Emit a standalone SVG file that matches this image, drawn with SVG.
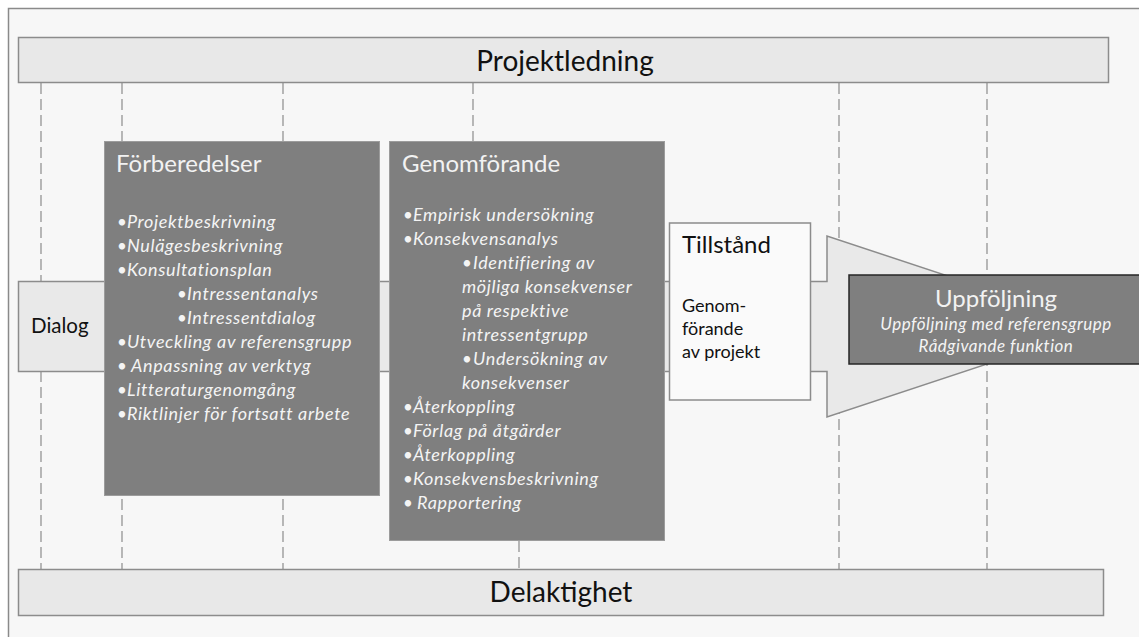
<svg xmlns="http://www.w3.org/2000/svg" width="1139" height="637" viewBox="0 0 1139 637">
  <style>
    text { font-family: Lato, "Open Sans", "DejaVu Sans", sans-serif; }
    .frame { fill: #f7f7f7; stroke: #8a8a8a; stroke-width: 1.5; }
    .bar { fill: #e8e8e8; stroke: #8c8c8c; stroke-width: 1.5; }
    .guide { stroke: #8c8c8c; stroke-width: 1.2; stroke-dasharray: 11 5; fill: none; }
    .dark { fill: #7f7f7f; stroke: #9c9c9c; stroke-width: 1; }
    .bandshape { fill: #e9e9e9; stroke: #8c8c8c; stroke-width: 1.5; }
    .plain { fill: #fafafa; stroke: #8c8c8c; stroke-width: 1.5; }
    .follow { fill: #7f7f7f; stroke: #262626; stroke-width: 1.5; }
    .big { font-size: 28px; fill: #111; }
    .title { font-size: 24px; fill: #f2f2f2; }
    .item { font-size: 18px; font-style: italic; fill: #f4f4f4; letter-spacing: 0.65px; }
    .dot { font-size: 17px; font-style: normal; fill: #f4f4f4; letter-spacing: 0; }
    .sub { font-size: 17px; font-style: italic; fill: #f4f4f4; letter-spacing: 0.5px; }
    .dark-label { fill: #111; }
  </style>

  <!-- frame -->
  <rect class="frame" x="8.5" y="8.5" width="1140" height="640"/>

  <!-- dashed guide lines -->
  <g id="connectors">
    <line class="guide" x1="41" y1="83" x2="41" y2="570"/>
    <line class="guide" x1="122" y1="83" x2="122" y2="570"/>
    <line class="guide" x1="283" y1="83" x2="283" y2="570"/>
    <line class="guide" x1="473" y1="83" x2="473" y2="141"/>
    <line class="guide" x1="519" y1="541" x2="519" y2="570"/>
    <line class="guide" x1="839" y1="83" x2="839" y2="570"/>
    <line class="guide" x1="987" y1="83" x2="987" y2="570"/>
  </g>

  <!-- top bar -->
  <g id="projektledning">
    <rect class="bar" x="18.5" y="37.5" width="1090" height="45"/>
    <text class="big" x="565" y="71" text-anchor="middle">Projektledning</text>
  </g>

  <!-- bottom bar -->
  <g id="delaktighet">
    <rect class="bar" x="18.5" y="569.5" width="1085" height="46"/>
    <text class="big" x="561" y="602" text-anchor="middle">Delaktighet</text>
  </g>

  <!-- dialog band with arrow head -->
  <g id="dialog">
    <polygon class="bandshape" points="18.5,281.5 827,281.5 827,236 1100,326.5 827,417 827,371.5 18.5,371.5"/>
    <text x="31" y="333" font-size="20.5" class="dark-label">Dialog</text>
  </g>

  <!-- preparation -->
  <g id="forberedelser">
    <rect class="dark" x="104.5" y="141.5" width="275" height="354"/>
    <text class="title" x="116" y="172">Förberedelser</text>
    <text class="item" y="228"><tspan class="dot" x="117">•</tspan><tspan x="127">Projektbeskrivning</tspan></text>
    <text class="item" y="252"><tspan class="dot" x="117">•</tspan><tspan x="127">Nulägesbeskrivning</tspan></text>
    <text class="item" y="276"><tspan class="dot" x="117">•</tspan><tspan x="127">Konsultationsplan</tspan></text>
    <text class="item" y="300"><tspan class="dot" x="177">•</tspan><tspan x="187">Intressentanalys</tspan></text>
    <text class="item" y="324"><tspan class="dot" x="177">•</tspan><tspan x="187">Intressentdialog</tspan></text>
    <text class="item" y="348"><tspan class="dot" x="117">•</tspan><tspan x="127">Utveckling av referensgrupp</tspan></text>
    <text class="item" y="372"><tspan class="dot" x="117">•</tspan><tspan x="131">Anpassning av verktyg</tspan></text>
    <text class="item" y="396"><tspan class="dot" x="117">•</tspan><tspan x="127">Litteraturgenomgång</tspan></text>
    <text class="item" y="420"><tspan class="dot" x="117">•</tspan><tspan x="127">Riktlinjer för fortsatt arbete</tspan></text>
  </g>

  <!-- execution -->
  <g id="genomforande">
    <rect class="dark" x="389.5" y="141.5" width="275" height="399"/>
    <text class="title" x="402" y="172">Genomförande</text>
    <text class="item" y="221"><tspan class="dot" x="403">•</tspan><tspan x="413">Empirisk undersökning</tspan></text>
    <text class="item" y="245"><tspan class="dot" x="403">•</tspan><tspan x="413">Konsekvensanalys</tspan></text>
    <text class="item" y="269"><tspan class="dot" x="462">•</tspan><tspan x="473">Identifiering av</tspan></text>
    <text class="item" x="462" y="293">möjliga konsekvenser</text>
    <text class="item" x="462" y="317">på respektive</text>
    <text class="item" x="462" y="341">intressentgrupp</text>
    <text class="item" y="365"><tspan class="dot" x="462">•</tspan><tspan x="473">Undersökning av</tspan></text>
    <text class="item" x="462" y="389">konsekvenser</text>
    <text class="item" y="413"><tspan class="dot" x="403">•</tspan><tspan x="413">Återkoppling</tspan></text>
    <text class="item" y="437"><tspan class="dot" x="403">•</tspan><tspan x="413">Förlag på åtgärder</tspan></text>
    <text class="item" y="461"><tspan class="dot" x="403">•</tspan><tspan x="413">Återkoppling</tspan></text>
    <text class="item" y="485"><tspan class="dot" x="403">•</tspan><tspan x="413">Konsekvensbeskrivning</tspan></text>
    <text class="item" y="509"><tspan class="dot" x="403">•</tspan><tspan x="417">Rapportering</tspan></text>
  </g>

  <!-- permit -->
  <g id="tillstand">
    <rect class="plain" x="669.5" y="223" width="141" height="177"/>
    <text x="682" y="253" font-size="24" class="dark-label">Tillstånd</text>
    <text x="682" y="312" font-size="18" class="dark-label">Genom-</text>
    <text x="682" y="335" font-size="18" class="dark-label">förande</text>
    <text x="682" y="358" font-size="18" class="dark-label">av projekt</text>
  </g>

  <!-- follow-up -->
  <g id="uppfoljning">
    <rect class="follow" x="849" y="275" width="295" height="89"/>
    <text x="996" y="307" font-size="24" fill="#f2f2f2" text-anchor="middle">Uppföljning</text>
    <text class="sub" x="996" y="330" text-anchor="middle">Uppföljning med referensgrupp</text>
    <text class="sub" x="996" y="352" text-anchor="middle">Rådgivande funktion</text>
  </g>
</svg>
